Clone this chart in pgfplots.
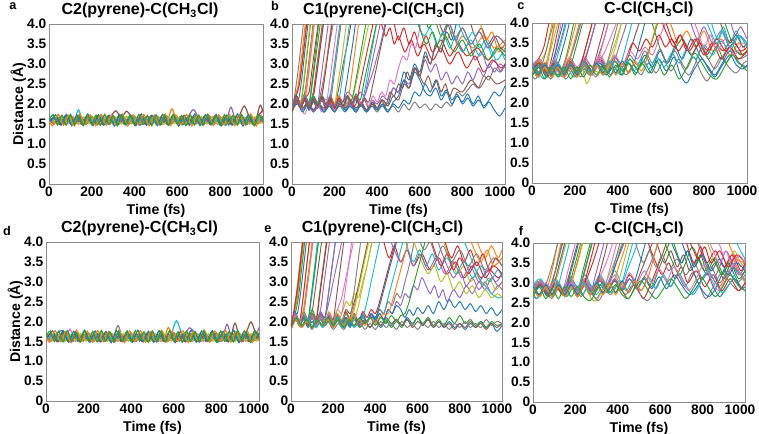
\documentclass[border=0pt]{standalone}
\usepackage{pgfplots}
\pgfplotsset{compat=1.18}
\usepackage{pgfplotstable}
\usepackage{fontspec}
\setmainfont{Liberation Sans}
\definecolor{t1}{HTML}{1F77B4}
\definecolor{t2}{HTML}{FF7F0E}
\definecolor{t3}{HTML}{2CA02C}
\definecolor{t4}{HTML}{D62728}
\definecolor{t5}{HTML}{9467BD}
\definecolor{t6}{HTML}{8C564B}
\definecolor{t7}{HTML}{E377C2}
\definecolor{t8}{HTML}{7F7F7F}
\definecolor{t9}{HTML}{BCBD22}
\definecolor{t10}{HTML}{17BECF}
\pgfplotscreateplotcyclelist{tab}{{t1},{t2},{t3},{t4},{t5},{t6},{t7},{t8},{t9},{t10}}
\pgfplotsset{panel/.style={
 scale only axis, xmin=0, xmax=1000, ymin=0, ymax=4,
 xtick={0,200,400,600,800},
 extra x ticks={1000},
 extra x tick style={xticklabel style={xshift=-3.75pt}},
 ytick={0,0.5,1,1.5,2,2.5,3,3.5,4},
 yticklabels={0,0.5,1.0,1.5,2.0,2.5,3.0,3.5,4.0},
 /pgf/number format/assume math mode=true,
 /pgf/number format/1000 sep={},
 tick label style={font=\fontsize{10.3}{12}\selectfont\bfseries},
 axis line style={draw=black!45},
 major tick length=0pt,
 xlabel={Time (fs)},
 xlabel style={font=\fontsize{10.6}{12}\selectfont\bfseries, yshift=1.5pt},
 title style={font=\fontsize{12}{14}\selectfont\bfseries, yshift=-5pt},
 cycle list name=tab,
 no marks,
 every axis plot/.append style={line width=0.7pt, smooth},
 yticklabel style={xshift=1.5pt},
 xticklabel style={yshift=1pt},
}}

\pgfplotstableread{
x x2 y1 y2 y3 y4 y5 y6 y7 y8 y9 y10
0 12.5 1.62 1.55 1.60 1.57 1.63 1.56 1.61 1.58 1.59 1.57
25 37.5 1.50 1.68 1.53 1.66 1.52 1.65 1.50 1.67 1.51 1.68
50 62.5 1.66 1.52 1.68 1.49 1.67 1.51 1.66 1.53 1.65 1.52
75 87.5 1.49 1.70 1.51 1.69 1.50 1.68 1.52 1.70 1.53 1.69
100 112.5 1.64 1.51 1.70 1.52 1.66 1.53 1.69 1.51 1.67 1.50
125 137.5 1.52 1.66 1.54 1.65 1.53 1.66 1.49 1.66 1.50 1.85
150 162.5 1.67 1.53 1.67 1.50 1.68 1.50 1.67 1.54 1.66 1.51
175 187.5 1.50 1.69 1.52 1.68 1.51 1.69 1.53 1.68 1.52 1.67
200 212.5 1.63 1.50 1.69 1.51 1.65 1.52 1.65 1.52 1.68 1.53
225 237.5 1.48 1.67 1.50 1.70 1.52 1.67 1.51 1.70 1.51 1.69
250 262.5 1.65 1.52 1.66 1.49 1.69 1.51 1.68 1.53 1.65 1.50
275 287.5 1.51 1.71 1.53 1.66 1.50 1.68 1.50 1.67 1.53 1.66
300 312.5 1.66 1.51 1.70 1.52 1.67 1.83 1.66 1.51 1.67 1.52
325 337.5 1.49 1.68 1.52 1.69 1.53 1.66 1.52 1.69 1.50 1.68
350 362.5 1.62 1.53 1.67 1.50 1.66 1.82 1.69 1.54 1.69 1.51
375 387.5 1.50 1.66 1.51 1.67 1.51 1.66 1.51 1.66 1.52 1.70
400 412.5 1.68 1.50 1.69 1.51 1.68 1.51 1.67 1.52 1.66 1.53
425 437.5 1.47 1.70 1.53 1.65 1.52 1.67 1.49 1.70 1.51 1.67
450 462.5 1.64 1.52 1.66 1.49 1.65 1.53 1.65 1.53 1.68 1.50
475 487.5 1.52 1.67 1.50 1.70 1.50 1.69 1.52 1.68 1.53 1.69
500 512.5 1.66 1.51 1.68 1.52 1.67 1.50 1.68 1.51 1.65 1.52
525 537.5 1.49 1.69 1.52 1.66 1.53 1.66 1.50 1.67 1.50 1.66
550 562.5 1.63 1.53 1.70 1.50 1.69 1.52 1.66 1.54 1.67 1.51
575 587.5 1.51 1.88 1.54 1.68 1.51 1.68 1.53 1.69 1.52 1.68
600 612.5 1.67 1.50 1.67 1.51 1.66 1.51 1.69 1.52 1.69 1.53
625 637.5 1.48 1.68 1.51 1.69 1.52 1.67 1.51 1.66 1.51 1.67
650 662.5 1.65 1.52 1.69 1.49 1.68 1.53 1.67 1.53 1.66 1.50
675 687.5 1.50 1.70 1.52 1.66 1.86 1.69 1.50 1.70 1.53 1.69
700 712.5 1.62 1.51 1.66 1.52 1.65 1.50 1.65 1.51 1.68 1.52
725 737.5 1.49 1.67 1.53 1.68 1.50 1.66 1.52 1.68 1.50 1.66
750 762.5 1.66 1.53 1.70 1.50 1.67 1.52 1.68 1.54 1.65 1.51
775 787.5 1.51 1.69 1.51 1.70 1.52 1.68 1.49 1.67 1.52 1.68
800 812.5 1.64 1.50 1.67 1.51 1.69 1.51 1.66 1.52 1.67 1.53
825 837.5 1.47 1.68 1.52 1.67 1.51 1.67 1.51 1.69 1.51 1.70
850 862.5 1.63 1.52 1.69 1.49 1.92 1.50 1.69 1.53 1.69 1.50
875 887.5 1.50 1.70 1.50 1.69 1.53 1.68 1.52 1.66 1.53 1.67
900 912.5 1.67 1.51 1.68 1.52 1.68 1.95 1.67 1.51 1.66 1.52
925 937.5 1.49 1.67 1.53 1.66 1.50 1.66 1.50 1.70 1.50 1.69
950 962.5 1.65 1.53 1.66 1.50 1.66 1.52 1.65 1.54 1.68 1.51
975 987.5 1.51 1.69 1.52 1.68 1.52 1.97 1.53 1.68 1.52 1.66
1000 1012.5 1.62 1.52 1.70 1.86 1.67 1.53 1.68 1.52 1.65 1.53
}\tabA

\pgfplotstableread{
x x2 y1 y2 y3 y4 y5 y6 y7 y8 y9 y10
0 12.5 1.60 1.55 1.62 1.58 1.63 1.57 1.61 1.59 1.60 1.56
25 37.5 1.52 1.68 1.52 1.70 1.51 1.67 1.51 1.68 1.52 1.69
50 62.5 1.70 1.51 1.69 1.50 1.68 1.52 1.67 1.53 1.68 1.51
75 87.5 1.77 1.69 1.50 1.70 1.53 1.69 1.53 1.70 1.50 1.67
100 112.5 1.52 1.53 1.67 1.52 1.70 1.50 1.81 1.51 1.67 1.53
125 137.5 1.50 1.69 1.53 1.67 1.50 1.66 1.50 1.67 1.53 1.70
150 162.5 1.68 1.50 1.70 1.51 1.67 1.53 1.68 1.52 1.69 1.50
175 187.5 1.53 1.66 1.51 1.69 1.52 1.68 1.52 1.69 1.51 1.68
200 212.5 1.71 1.52 1.68 1.53 1.69 1.51 1.70 1.50 1.68 1.52
225 237.5 1.51 1.68 1.52 1.68 1.51 1.70 1.51 1.68 1.52 1.69
250 262.5 1.69 1.51 1.69 1.50 1.68 1.52 1.67 1.53 1.70 1.51
275 287.5 1.52 1.67 1.50 1.70 1.53 1.67 1.53 1.70 1.50 1.67
300 312.5 1.72 1.53 1.71 1.52 1.70 1.50 1.69 1.51 1.67 1.53
325 337.5 1.50 1.69 1.53 1.67 1.50 1.69 1.50 1.90 1.53 1.70
350 362.5 1.68 1.50 1.67 1.51 1.67 1.53 1.68 1.53 1.69 1.50
375 387.5 1.53 1.66 1.51 1.69 1.52 1.66 1.52 1.69 1.51 1.68
400 412.5 1.70 1.52 1.69 1.53 1.69 1.51 1.70 1.50 1.68 1.52
425 437.5 1.51 1.68 1.52 1.68 1.51 1.68 1.51 1.68 1.52 1.69
450 462.5 1.69 1.51 1.70 1.50 1.68 1.52 1.67 1.53 1.70 1.51
475 487.5 1.52 1.67 1.50 1.70 1.53 1.70 1.53 1.70 1.50 1.67
500 512.5 1.71 1.53 1.68 1.52 1.70 1.50 1.69 1.51 1.67 1.53
525 537.5 1.50 1.69 1.53 1.67 1.50 1.67 1.50 1.67 1.53 1.70
550 562.5 1.68 1.50 1.69 1.51 1.67 1.53 1.68 1.52 1.69 1.50
575 587.5 1.53 1.85 1.51 1.69 1.52 1.69 1.52 1.69 1.51 1.68
600 612.5 1.72 1.52 1.67 1.53 1.69 1.51 1.70 1.50 1.68 2.02
625 637.5 1.51 1.68 1.52 1.68 1.51 1.66 1.51 1.68 1.52 1.69
650 662.5 1.69 1.51 1.70 1.50 1.68 1.52 1.67 1.53 1.70 1.51
675 687.5 1.52 1.67 1.50 1.70 1.84 1.68 1.53 1.70 1.50 1.67
700 712.5 1.70 1.53 1.68 1.52 1.70 1.50 1.69 1.51 1.67 1.53
725 737.5 1.50 1.69 1.53 1.67 1.50 1.70 1.50 1.67 1.53 1.70
750 762.5 1.68 1.50 1.69 1.51 1.67 1.53 1.68 1.52 1.69 1.50
775 787.5 1.53 1.66 1.51 1.69 1.52 1.67 1.52 1.69 1.51 1.68
800 812.5 1.71 1.52 1.67 1.53 1.69 1.51 1.70 1.50 1.68 1.52
825 837.5 1.51 1.68 1.52 1.68 1.51 1.69 1.51 1.68 1.52 1.69
850 862.5 1.69 1.51 1.70 1.50 1.93 1.52 1.67 1.53 1.70 1.51
875 887.5 1.52 1.69 1.50 1.70 1.53 1.96 1.53 1.70 1.50 1.67
900 912.5 1.70 1.53 1.68 1.52 1.70 1.50 1.69 1.51 1.67 1.53
925 937.5 1.50 1.67 1.53 1.67 1.50 1.68 1.50 1.67 1.53 1.70
950 962.5 1.68 1.50 1.69 1.51 1.67 1.99 1.68 1.52 1.69 1.50
975 987.5 1.53 1.66 1.51 1.69 1.52 1.66 1.52 1.69 1.51 1.68
1000 1012.5 1.71 1.52 1.67 1.55 1.85 1.52 1.70 1.50 1.68 1.52
}\tabD

\begin{document}
\begin{tikzpicture}
\useasboundingbox (0,0) rectangle (569.25pt,-325.5pt);

% ---------------- panel a
\begin{axis}[panel, at={(36.75pt,-138pt)}, anchor=south west, width=160.5pt, height=120pt,
 title={C2(pyrene)-C(CH\textsubscript{3}Cl)}, title style={xshift=-12pt},
 every axis plot/.append style={line width=0.9pt},
 ylabel={Distance (Å)}, ylabel style={font=\fontsize{10.6}{12}\selectfont\bfseries, yshift=-6pt}]
\addplot table[x=x,y=y1]{\tabA};
\addplot table[x=x,y=y2]{\tabA};
\addplot table[x=x,y=y3]{\tabA};
\addplot table[x=x,y=y4]{\tabA};
\addplot table[x=x,y=y5]{\tabA};
\addplot table[x=x2,y=y6]{\tabA};
\addplot table[x=x2,y=y7]{\tabA};
\addplot table[x=x2,y=y8]{\tabA};
\addplot table[x=x2,y=y9]{\tabA};
\addplot table[x=x2,y=y10]{\tabA};
\addplot coordinates {(6,1.55)(31,1.73)(56,1.47)(81,1.74)(106,1.46)(131,1.72)(156,1.48)(181,1.75)(206,1.46)(231,1.73)(256,1.47)(281,1.72)(306,1.45)(331,1.74)(356,1.48)(381,1.73)(406,1.46)(431,1.75)(456,1.47)(481,1.72)(506,1.46)(531,1.74)(556,1.48)(581,1.73)(606,1.45)(631,1.72)(656,1.47)(681,1.75)(706,1.46)(731,1.73)(756,1.48)(781,1.74)(806,1.46)(831,1.72)(856,1.47)(881,1.75)(906,1.45)(931,1.73)(956,1.48)(981,1.74)(1006,1.50)};
\addplot coordinates {(0,1.58)(18,1.46)(43,1.74)(68,1.47)(93,1.72)(118,1.45)(143,1.75)(168,1.48)(193,1.73)(218,1.46)(243,1.74)(268,1.47)(293,1.72)(318,1.46)(343,1.75)(368,1.45)(393,1.73)(418,1.48)(443,1.74)(468,1.46)(493,1.72)(518,1.47)(543,1.75)(568,1.46)(593,1.73)(618,1.48)(643,1.74)(668,1.45)(693,1.72)(718,1.47)(743,1.75)(768,1.46)(793,1.73)(818,1.48)(843,1.74)(868,1.46)(893,1.72)(918,1.47)(943,1.75)(968,1.45)(993,1.73)};
\addplot coordinates {(0,1.6)(20,1.73)(40,1.48)(60,1.72)(80,1.47)(100,1.74)(120,1.49)(140,1.71)(160,1.46)(180,1.73)(200,1.48)(220,1.72)(240,1.47)(260,1.74)(280,1.49)(300,1.71)(320,1.46)(340,1.73)(360,1.48)(380,1.72)(400,1.47)(420,1.74)(440,1.49)(460,1.71)(480,1.46)(500,1.73)(520,1.48)(540,1.72)(560,1.47)(580,1.74)(600,1.49)(620,1.71)(640,1.46)(660,1.73)(680,1.48)(700,1.72)(720,1.47)(740,1.74)(760,1.49)(780,1.71)(800,1.46)(820,1.73)(840,1.48)(860,1.72)(880,1.47)(900,1.74)(920,1.49)(940,1.71)(960,1.46)(980,1.73)(1000,1.55)};
\end{axis}

% ---------------- panel b
\begin{axis}[panel, at={(219pt,-138pt)}, anchor=south west, width=159.75pt, height=120pt,
 title={C1(pyrene)-Cl(CH\textsubscript{3}Cl)}, title style={xshift=-11pt}]
\addplot coordinates {(0,1.85)(25,2.05)(50,1.85)(75,2.0)(100,1.8)(125,1.95)(150,1.8)(175,2.0)(200,1.85)(225,1.95)(250,1.8)(275,2.0)(300,1.85)(325,1.95)(350,1.8)(375,2.0)(400,1.85)(425,1.95)(450,1.8)(475,2.0)(500,1.9)(525,2.1)(550,2.0)(575,2.3)(600,2.2)(625,2.5)(650,2.3)(675,2.6)(700,2.2)(725,2.35)(750,2.1)(775,2.25)(800,2.0)(825,2.15)(850,1.95)(875,2.1)(900,1.95)(925,2.1)(950,2.3)(975,2.2)(1000,2.45)};
\addplot coordinates {(0,1.85)(15,2.2)(30,2.4)(45,3.0)(60,3.7)(75,4.4)(90,5.0)(105,5.5)(640,5.5)(660,5.0)(680,4.4)(700,3.9)(725,3.6)(750,3.8)(775,3.5)(800,3.7)(850,3.4)(900,3.7)(950,3.4)(1000,3.6)};
\addplot coordinates {(0,1.8)(20,2.1)(40,2.0)(55,2.5)(70,3.2)(85,3.9)(100,4.5)(115,5.1)(130,5.6)(580,5.6)(600,5.0)(620,4.4)(640,3.9)(670,4.1)(700,3.7)(730,4.0)(760,3.6)(800,3.9)(840,3.5)(880,3.8)(920,3.4)(960,3.7)(1000,3.5)};
\addplot coordinates {(0,1.85)(20,2.2)(40,2.0)(60,2.15)(80,2.3)(95,2.9)(110,3.5)(125,4.1)(140,4.7)(155,5.3)(420,5.3)(440,4.9)(460,4.4)(480,4.0)(500,3.6)(525,3.9)(550,3.5)(575,3.8)(600,3.4)(630,3.7)(660,3.3)(700,3.6)(740,3.2)(780,3.5)(820,3.2)(870,3.4)(920,3.1)(970,3.4)(1000,3.3)};
\addplot coordinates {(0,1.8)(20,2.1)(40,1.95)(60,2.15)(80,1.9)(100,2.1)(120,2.0)(140,2.4)(160,3.0)(180,3.6)(200,4.2)(220,4.8)(240,5.3)(680,5.3)(700,4.9)(720,4.4)(740,4.0)(770,3.6)(800,3.3)(830,3.5)(860,3.1)(890,3.3)(920,2.9)(950,3.1)(980,2.8)(1000,3.0)};
\addplot coordinates {(0,1.85)(20,2.15)(40,2.0)(60,2.2)(80,1.9)(100,2.1)(120,1.95)(140,2.15)(160,1.9)(180,2.1)(200,1.95)(220,2.4)(240,3.0)(260,3.5)(280,4.1)(300,4.7)(320,5.3)(780,5.3)(800,4.9)(820,4.4)(840,4.0)(860,3.7)(890,3.9)(920,3.5)(950,3.7)(980,3.4)(1000,3.5)};
\addplot coordinates {(0,1.85)(20,2.2)(40,2.0)(60,2.1)(75,2.6)(90,3.3)(105,4.0)(120,4.6)(135,5.2)};
\addplot coordinates {(0,1.8)(25,2.05)(50,1.9)(75,2.0)(100,1.85)(125,2.0)(150,1.85)(175,1.95)(200,1.8)(225,2.0)(250,1.85)(275,1.95)(300,1.8)(325,2.0)(350,1.85)(375,1.95)(400,1.8)(425,2.0)(450,1.85)(475,1.95)(500,1.8)(525,2.0)(550,1.85)(575,2.05)(600,1.9)(625,2.0)(650,1.85)(675,2.0)(700,1.9)(725,2.05)(750,1.95)(775,2.3)(800,2.2)(825,2.35)(850,2.5)(875,2.4)(900,2.7)(925,2.6)(950,2.9)(975,2.8)(1000,3.0)};
\addplot coordinates {(0,1.85)(20,2.1)(40,1.95)(60,2.2)(80,2.0)(100,2.2)(115,2.7)(130,3.3)(145,3.9)(160,4.5)(175,5.1)};
\addplot coordinates {(0,1.8)(20,2.15)(40,1.9)(60,2.1)(80,1.85)(100,2.05)(120,1.9)(140,2.1)(160,1.85)(180,2.05)(200,1.9)(220,2.1)(240,1.85)(260,2.05)(280,1.9)(300,2.1)(320,1.95)(340,2.3)(360,2.9)(380,3.5)(400,4.1)(420,4.7)(440,5.3)(720,5.3)(740,4.9)(760,4.3)(790,3.9)(820,3.6)(850,3.8)(880,3.4)(910,3.6)(940,3.2)(970,3.4)(1000,3.1)};
\addplot coordinates {(0,1.85)(25,2.1)(50,1.9)(75,2.05)(100,1.85)(125,2.0)(150,1.8)(175,2.0)(200,1.85)(225,2.05)(250,1.9)(275,2.0)(300,1.8)(325,2.0)(350,1.85)(375,2.05)(400,1.9)(425,2.1)(450,2.0)(475,2.4)(500,2.3)(525,2.8)(550,2.6)(575,3.0)(600,2.8)(625,3.3)(650,3.0)(675,3.5)(700,3.3)(725,3.8)(750,3.6)(775,4.1)(800,4.7)(825,5.2)};
\addplot coordinates {(0,1.8)(20,2.15)(40,1.95)(60,2.2)(80,1.95)(100,2.2)(120,2.0)(140,2.25)(155,2.8)(170,3.4)(185,4.0)(200,4.6)(215,5.2)(840,5.2)(860,4.7)(880,4.1)(910,3.6)(940,3.8)(970,3.3)(1000,3.5)};
\addplot coordinates {(0,1.85)(20,2.2)(40,1.95)(60,2.15)(80,1.9)(100,2.1)(120,1.95)(140,2.15)(160,1.9)(180,2.1)(200,1.95)(220,2.1)(240,1.9)(260,2.2)(280,2.0)(300,2.25)(320,2.1)(340,2.6)(360,3.1)(380,3.6)(400,4.1)(420,4.7)(440,5.2)};
\addplot coordinates {(0,1.8)(20,2.1)(40,1.9)(60,2.15)(80,1.95)(100,2.3)(115,2.9)(130,3.5)(145,4.1)(160,4.7)(175,5.3)(360,5.3)(380,4.9)(400,4.4)(420,4.0)(440,3.7)(460,3.9)(480,3.5)(500,3.7)(530,3.3)(560,3.6)(590,3.2)(620,3.5)(660,3.1)(700,3.4)(740,3.0)(780,3.3)(820,2.9)(860,3.2)(900,2.8)(940,3.1)(980,2.9)(1000,3.0)};
\addplot coordinates {(0,1.85)(25,2.05)(50,1.85)(75,2.0)(100,1.8)(125,1.95)(150,1.85)(175,2.05)(200,1.9)(225,2.0)(250,1.85)(275,2.05)(300,1.9)(325,2.0)(350,1.85)(375,2.1)(400,2.0)(425,2.2)(450,2.1)(475,2.4)(500,2.3)(525,2.6)(550,2.5)(575,2.9)(600,2.7)(625,3.1)(650,2.8)(675,3.0)(700,2.6)(725,2.8)(750,2.5)(775,2.7)(800,2.5)(825,2.8)(850,2.6)(875,2.9)(900,2.7)(925,3.0)(950,2.8)(975,3.0)(1000,2.9)};
\addplot coordinates {(0,1.8)(20,2.15)(40,2.0)(60,2.2)(80,1.95)(100,2.15)(120,1.9)(140,2.1)(160,1.95)(180,2.15)(200,1.9)(220,2.1)(240,1.95)(260,2.2)(280,2.0)(300,2.15)(320,1.95)(340,2.1)(360,1.9)(380,2.05)(400,1.9)(420,2.1)(440,1.95)(460,2.3)(480,2.2)(500,2.5)(520,2.4)(540,2.8)(560,2.6)(580,2.9)(600,2.7)(620,2.5)(640,2.7)(660,2.4)(680,2.6)(700,2.3)(720,2.5)(740,2.2)(760,2.4)(800,2.3)(840,2.6)(880,2.4)(920,2.7)(960,2.5)(1000,2.6)};
\addplot coordinates {(0,1.8)(20,2.1)(40,1.9)(60,1.75)(80,2.0)(100,1.85)(120,2.0)(140,1.8)(160,2.0)(180,2.2)(195,2.8)(210,3.4)(225,4.0)(240,4.6)(255,5.2)};
\addplot coordinates {(0,1.85)(20,2.2)(40,2.0)(60,2.3)(75,2.9)(90,3.6)(105,4.3)(120,5.0)};
\addplot coordinates {(0,1.8)(20,2.1)(40,1.95)(60,2.15)(80,1.95)(100,2.1)(120,1.9)(140,2.1)(160,1.9)(180,2.15)(200,1.95)(220,2.1)(240,1.9)(260,2.2)(280,2.1)(300,2.5)(320,3.0)(340,3.5)(360,4.0)(380,4.6)(400,5.2)};
\addplot coordinates {(0,1.8)(20,2.15)(40,1.95)(60,2.2)(80,2.0)(100,2.25)(115,2.8)(130,3.4)(145,4.0)(160,4.6)(175,5.2)(520,5.2)(540,4.8)(560,4.3)(590,4.0)(620,3.7)(650,3.9)(680,3.5)(710,3.8)(740,3.4)(770,3.7)(800,3.3)(840,3.6)(880,3.2)(920,3.5)(960,3.1)(1000,3.4)};
\addplot coordinates {(0,1.85)(25,2.0)(50,1.8)(75,2.0)(100,1.85)(125,2.0)(150,1.8)(175,1.95)(200,1.8)(225,2.0)(250,1.85)(275,1.95)(300,1.8)(325,2.0)(350,1.8)(375,1.95)(400,1.85)(425,2.0)(450,1.8)(475,2.05)(500,2.2)(525,2.6)(550,2.4)(575,2.8)(600,2.6)(625,2.3)(650,2.2)(675,2.4)(700,2.1)(725,2.3)(750,2.0)(775,2.2)(800,2.05)(825,2.25)(850,2.0)(875,2.2)(900,1.9)(925,2.05)(950,1.85)(975,1.7)(1000,1.9)};
\addplot coordinates {(0,1.85)(15,2.2)(30,2.5)(45,3.2)(60,3.9)(75,4.5)(90,5.1)};
\addplot coordinates {(0,1.8)(20,2.2)(40,2.0)(60,2.25)(80,2.05)(95,2.6)(110,3.3)(125,4.0)(140,4.6)(155,5.2)};
\addplot coordinates {(0,1.85)(20,2.2)(35,2.5)(50,3.1)(65,3.8)(80,4.5)(95,5.1)};
\addplot coordinates {(0,1.85)(20,2.1)(40,1.9)(60,2.1)(80,1.9)(100,2.15)(120,1.95)(140,2.15)(160,1.95)(180,2.2)(200,2.0)(220,2.2)(240,2.05)(260,2.3)(280,2.2)(300,2.1)(320,2.3)(340,2.2)(360,2.5)(380,2.8)(400,3.2)(420,3.6)(440,4.1)(460,4.6)(480,5.1)};
\addplot coordinates {(0,1.8)(25,2.1)(50,1.9)(75,2.05)(100,1.85)(125,2.0)(150,1.9)(175,2.05)(200,1.85)(225,2.0)(250,1.9)(275,2.1)(300,1.9)(325,2.05)(350,1.85)(375,2.0)(400,1.9)(425,2.1)(450,1.95)(475,2.2)(500,2.1)(525,2.5)(550,2.4)(575,2.9)(600,2.7)(625,3.2)(650,3.0)(675,3.5)(700,3.3)(725,3.9)(750,4.4)(775,5.0)};
\addplot coordinates {(0,1.85)(20,2.1)(40,1.9)(60,2.1)(80,1.85)(100,2.05)(120,1.9)(140,2.1)(160,1.9)(180,2.05)(200,1.85)(220,2.1)(240,1.95)(260,2.15)(280,1.95)(300,2.2)(320,2.0)(340,2.15)(360,1.95)(380,2.2)(400,2.05)(420,2.3)(440,2.2)(460,2.6)(480,2.5)(500,2.9)(520,3.2)(540,3.1)(560,3.5)(580,3.4)(600,3.9)(620,4.4)(640,5.0)};
\addplot coordinates {(0,1.85)(15,2.3)(30,2.9)(45,3.6)(60,4.3)(75,5.0)};
\addplot coordinates {(0,1.8)(20,2.15)(40,2.05)(55,2.6)(70,3.3)(85,4.0)(100,4.7)};
\addplot coordinates {(0,1.85)(20,2.2)(40,2.0)(60,2.2)(80,2.05)(100,2.2)(120,2.05)(140,2.2)(160,2.1)(180,2.25)(195,2.8)(210,3.4)(225,4.0)(240,4.6)};
\addplot coordinates {(0,1.85)(15,2.2)(30,2.1)(45,2.6)(60,3.3)(75,4.0)(90,4.7)};
\addplot coordinates {(0,1.8)(20,2.15)(40,1.95)(60,2.2)(75,2.7)(90,3.4)(105,4.1)(120,4.8)};
\addplot coordinates {(0,1.85)(20,2.2)(40,2.0)(60,2.15)(80,1.95)(95,2.5)(110,3.1)(125,3.7)(140,4.3)(155,4.9)};
\addplot coordinates {(0,1.8)(20,2.1)(40,1.9)(60,2.2)(80,2.0)(100,2.2)(115,2.7)(130,3.3)(145,3.9)(160,4.5)(175,5.1)};
\addplot coordinates {(0,1.85)(20,2.2)(40,1.95)(60,2.15)(80,1.9)(100,2.15)(120,2.0)(135,2.6)(150,3.2)(165,3.8)(180,4.4)(195,5.0)};
\addplot coordinates {(0,1.8)(20,2.15)(40,1.9)(60,2.1)(80,1.9)(100,2.1)(120,1.95)(140,2.2)(155,2.7)(170,3.3)(185,3.9)(200,4.5)(215,5.1)};
\addplot coordinates {(0,1.85)(20,2.1)(40,1.95)(60,2.2)(80,1.95)(100,2.15)(120,1.9)(140,2.1)(160,2.0)(175,2.5)(190,3.1)(205,3.7)(220,4.3)(235,4.9)};
\addplot coordinates {(0,1.8)(20,2.2)(40,2.0)(60,2.1)(80,1.85)(100,2.1)(120,1.95)(140,2.2)(160,1.95)(180,2.05)(195,2.6)(210,3.2)(225,3.8)(240,4.4)(255,5.0)};
\addplot coordinates {(0,1.85)(20,2.15)(40,1.9)(60,2.15)(80,1.9)(100,2.1)(120,1.9)(140,2.15)(160,1.95)(180,2.2)(200,2.0)(215,2.5)(230,3.0)(245,3.6)(260,4.2)(275,4.8)};
\addplot coordinates {(0,1.8)(20,2.1)(40,1.95)(60,2.2)(80,1.95)(100,2.2)(120,2.0)(140,2.15)(160,1.9)(180,2.15)(200,1.95)(220,2.1)(235,2.6)(250,3.2)(265,3.8)(280,4.4)(295,5.0)};
\addplot coordinates {(0,1.85)(20,2.2)(40,1.95)(60,2.1)(80,1.85)(100,2.05)(120,1.9)(140,2.1)(160,1.9)(180,2.1)(200,1.95)(220,2.15)(240,2.05)(255,2.5)(270,3.0)(285,3.5)(300,4.1)(315,4.7)};
\addplot coordinates {(0,1.8)(20,2.15)(40,2.0)(60,2.2)(80,1.95)(100,2.15)(120,1.9)(140,2.15)(160,1.95)(180,2.2)(200,2.0)(220,2.2)(240,1.95)(260,2.0)(275,2.5)(290,3.1)(305,3.7)(320,4.3)(335,4.9)};
\addplot coordinates {(0,1.85)(20,2.1)(40,1.9)(60,2.15)(80,1.95)(100,2.2)(120,2.0)(140,2.2)(160,1.95)(180,2.15)(200,1.9)(220,2.1)(240,1.9)(260,2.15)(280,2.1)(300,2.6)(320,3.2)(340,3.8)(360,4.4)(380,5.0)(400,5.5)(540,5.5)(560,5.0)(580,4.4)(600,3.9)(630,3.5)(660,3.8)(690,3.4)(720,3.7)(760,3.3)(800,3.6)(840,3.2)(880,3.5)(920,3.1)(960,3.4)(1000,3.2)};
\addplot coordinates {(0,1.8)(20,2.2)(40,1.95)(60,2.15)(80,1.9)(100,2.1)(120,1.95)(140,2.15)(160,1.9)(180,2.1)(200,1.9)(220,2.15)(240,1.95)(260,2.2)(280,1.95)(300,2.0)(320,2.5)(340,3.0)(360,3.5)(380,4.0)(400,4.6)(420,5.2)};
\addplot coordinates {(0,1.85)(20,2.15)(40,1.95)(60,2.2)(80,2.0)(100,2.15)(120,1.9)(140,2.1)(160,1.95)(180,2.2)(200,1.95)(220,2.1)(240,1.9)(260,2.15)(280,1.95)(300,2.2)(330,2.0)(350,2.4)(370,2.9)(390,3.4)(410,3.9)(430,4.4)(450,5.0)(640,5.0)(660,4.6)(680,4.2)(710,3.8)(740,4.0)(770,3.6)(800,3.9)(840,3.5)(880,3.8)(920,3.4)(960,3.7)(1000,3.5)};
\addplot coordinates {(0,1.8)(20,2.1)(40,1.9)(60,2.1)(80,1.9)(100,2.15)(120,1.95)(140,2.2)(160,2.0)(180,2.15)(200,1.9)(220,2.1)(240,1.95)(260,2.2)(280,2.0)(300,2.2)(320,1.95)(340,2.15)(360,2.05)(380,2.5)(400,3.0)(420,3.5)(440,4.0)(460,4.6)(480,5.2)};
\end{axis}

% ---------------- panel c
\begin{axis}[panel, at={(399pt,-137.25pt)}, anchor=south west, width=161.25pt, height=120pt,
 title={C-Cl(CH\textsubscript{3}Cl)}, title style={xshift=7pt}]
\addplot coordinates {(0,2.75)(30,2.95)(65,2.7)(100,2.95)(135,2.7)(170,2.9)(205,2.65)(240,2.85)(275,2.7)(310,2.95)(345,2.7)(380,2.9)(415,2.7)(450,3.0)(485,2.75)(520,3.05)(555,2.75)(590,3.1)(625,2.8)(660,3.15)(690,2.7)(720,2.5)(750,2.8)(790,3.1)(820,2.85)(850,2.65)(880,2.9)(920,3.2)(950,2.95)(980,2.85)(1000,2.95)};
\addplot coordinates {(0,2.85)(30,3.0)(60,2.8)(80,3.2)(95,3.7)(110,4.2)(125,4.8)(140,5.3)(580,5.3)(600,4.9)(620,4.4)(650,3.9)(680,3.5)(720,3.8)(760,3.4)(800,3.8)(840,3.3)(880,3.6)(920,3.2)(960,3.5)(1000,3.3)};
\addplot coordinates {(0,2.8)(30,3.0)(60,2.75)(90,2.95)(120,2.7)(150,3.0)(170,3.4)(190,3.9)(210,4.4)(230,5.0)(500,5.0)(520,4.7)(540,4.3)(570,3.8)(600,3.3)(630,3.0)(660,3.3)(700,3.6)(740,3.2)(780,3.5)(820,3.1)(860,3.4)(900,3.0)(940,3.3)(980,3.2)(1000,3.3)};
\addplot coordinates {(0,2.8)(35,2.95)(70,2.7)(105,3.0)(140,2.75)(175,3.05)(210,2.8)(245,3.1)(270,3.5)(295,4.0)(320,4.5)(345,5.1)(560,5.1)(580,4.8)(600,4.4)(630,3.9)(660,3.5)(690,3.7)(730,3.3)(770,3.6)(810,3.2)(850,3.5)(890,3.3)(930,3.6)(970,3.3)(1000,3.4)};
\addplot coordinates {(0,2.9)(35,3.05)(70,2.8)(105,3.1)(130,3.5)(150,3.9)(170,4.4)(190,5.0)(680,5.0)(700,4.7)(720,4.3)(745,3.9)(770,3.6)(800,3.9)(840,3.5)(880,3.8)(920,3.4)(960,3.7)(1000,3.5)};
\addplot coordinates {(0,2.7)(35,2.9)(70,2.65)(105,2.9)(140,2.7)(175,2.95)(210,2.7)(245,2.95)(280,2.7)(315,3.0)(350,2.75)(385,3.05)(420,2.8)(450,3.2)(480,3.7)(510,4.2)(540,4.8)};
\addplot coordinates {(0,2.85)(35,3.0)(70,2.75)(100,3.1)(120,3.6)(140,4.1)(160,4.7)};
\addplot coordinates {(0,2.7)(17,2.6)(52,2.85)(87,2.6)(122,2.85)(157,2.6)(192,2.85)(227,2.65)(262,2.9)(297,2.65)(332,2.9)(367,2.7)(402,2.95)(437,2.7)(472,2.95)(507,2.7)(542,3.0)(577,2.75)(612,3.05)(647,2.8)(682,3.1)(717,2.85)(752,3.15)(787,2.75)(815,2.55)(845,2.85)(880,3.15)(915,2.9)(950,2.75)(985,3.0)(1000,3.05)};
\addplot coordinates {(0,2.8)(35,3.0)(70,2.75)(105,2.95)(140,2.7)(175,2.95)(210,2.7)(235,2.85)(255,2.48)(285,2.8)(320,2.75)(350,3.0)(380,3.4)(410,3.9)(440,4.4)(470,5.0)};
\addplot coordinates {(0,2.95)(35,3.1)(70,2.85)(105,3.05)(140,2.8)(175,3.1)(200,3.5)(225,4.0)(250,4.5)(275,5.1)(780,5.1)(800,4.8)(820,4.4)(840,3.9)(865,3.6)(890,3.9)(920,3.5)(950,3.8)(980,3.4)(1000,3.5)};
\addplot coordinates {(0,2.7)(35,2.9)(70,2.65)(105,2.95)(140,2.7)(175,2.95)(210,2.7)(245,2.95)(280,2.75)(315,3.0)(350,2.75)(385,3.05)(420,2.8)(455,3.1)(490,2.85)(525,3.2)(560,2.9)(595,3.3)(630,3.0)(665,3.4)(700,3.1)(740,3.6)(780,3.2)(820,2.9)(850,2.7)(880,2.95)(920,3.3)(960,3.0)(1000,2.9)};
\addplot coordinates {(0,2.85)(30,3.05)(60,2.9)(80,3.3)(100,3.8)(120,4.3)(140,4.9)};
\addplot coordinates {(0,2.75)(35,2.95)(70,2.7)(105,2.95)(140,2.7)(175,3.0)(210,2.75)(245,3.0)(280,2.75)(315,3.05)(350,2.8)(385,3.05)(420,2.8)(455,3.1)(490,2.85)(525,3.1)(555,3.5)(585,4.0)(615,4.5)(645,5.1)(840,5.1)(860,4.7)(880,4.3)(910,3.8)(940,3.4)(970,3.2)(1000,3.3)};
\addplot coordinates {(0,2.8)(35,3.0)(70,2.75)(105,3.0)(140,2.75)(175,3.05)(210,2.8)(245,3.05)(280,2.8)(315,3.1)(350,2.85)(385,3.15)(420,2.9)(450,3.3)(470,3.5)(500,3.3)(530,3.6)(560,3.4)(590,3.7)(620,3.4)(650,3.6)(680,3.3)(710,3.5)(740,3.2)(780,3.5)(820,3.3)(860,3.6)(900,3.3)(940,3.5)(980,3.2)(1000,3.3)};
\addplot coordinates {(0,2.85)(35,3.0)(70,2.8)(105,3.05)(140,2.8)(175,3.1)(200,3.5)(225,3.95)(250,4.4)(275,5.0)};
\addplot coordinates {(0,2.8)(35,2.95)(70,2.7)(105,2.95)(140,2.75)(175,3.0)(210,2.75)(245,3.0)(280,2.8)(310,3.2)(335,3.6)(360,4.1)(385,4.6)(410,5.2)(820,5.2)(840,4.8)(860,4.3)(890,3.8)(920,3.5)(950,3.7)(980,3.4)(1000,3.5)};
\addplot coordinates {(0,2.75)(35,2.95)(70,2.7)(105,2.9)(140,2.65)(175,2.95)(210,2.7)(245,2.95)(280,2.7)(310,3.0)(340,3.3)(370,3.7)(400,4.1)(430,4.6)(460,5.1)};
\addplot coordinates {(0,2.9)(35,3.05)(70,2.8)(105,3.05)(140,2.85)(175,3.1)(210,2.85)(245,3.1)(280,2.9)(315,3.15)(350,2.9)(385,3.15)(420,2.9)(455,3.2)(490,2.95)(525,3.3)(560,3.0)(595,3.35)(630,3.0)(665,3.3)(700,2.9)(730,2.7)(760,3.0)(790,3.4)(820,3.1)(850,2.85)(880,3.1)(920,3.4)(960,3.1)(1000,3.2)};
\addplot coordinates {(0,2.8)(35,3.0)(65,3.3)(85,3.8)(105,4.3)(125,4.9)};
\addplot coordinates {(0,2.7)(20,2.85)(55,2.6)(90,2.9)(125,2.65)(160,2.9)(195,2.65)(230,2.95)(265,2.7)(300,2.95)(335,2.7)(370,3.0)(405,2.75)(440,3.05)(475,2.8)(510,3.1)(545,2.85)(580,3.15)(615,2.9)(650,3.25)(685,3.0)(720,3.35)(760,3.1)(800,3.45)(840,3.2)(880,3.55)(920,3.3)(960,3.65)(1000,3.5)};
\addplot coordinates {(0,2.8)(35,3.0)(70,2.75)(100,3.1)(125,3.6)(150,4.1)(175,4.6)(200,5.2)};
\addplot coordinates {(0,2.9)(35,3.05)(70,2.8)(105,3.1)(140,2.85)(170,3.3)(195,3.8)(220,4.3)(245,4.9)};
\addplot coordinates {(0,2.75)(35,2.95)(70,2.7)(105,2.95)(140,2.75)(175,3.0)(210,2.8)(240,3.2)(265,3.7)(290,4.2)(315,4.7)};
\addplot coordinates {(0,2.9)(30,3.1)(55,3.4)(75,3.9)(95,4.4)(115,5.0)};
\addplot coordinates {(0,2.75)(35,2.95)(70,2.7)(105,2.95)(140,2.7)(175,3.0)(210,2.75)(245,3.0)(280,2.8)(315,3.05)(350,2.85)(385,3.1)(410,3.5)(435,3.9)(460,4.4)(485,5.0)(880,5.0)(900,4.6)(920,4.1)(945,3.7)(970,3.9)(1000,3.6)};
\addplot coordinates {(0,2.85)(35,3.0)(70,2.75)(95,3.2)(115,3.7)(135,4.2)(155,4.8)};
\addplot coordinates {(0,2.9)(35,3.1)(70,2.85)(105,3.1)(140,2.85)(175,3.15)(210,2.9)(245,3.15)(280,2.9)(315,3.2)(350,2.95)(385,3.2)(420,2.95)(455,3.3)(490,3.1)(525,3.4)(560,3.2)(590,3.6)(620,4.0)(650,4.5)(680,5.0)};
\addplot coordinates {(0,2.95)(30,2.75)(55,3.1)(75,3.5)(95,3.9)(115,4.4)(135,5.0)};
\addplot coordinates {(0,2.9)(30,2.7)(60,2.95)(85,3.3)(105,3.7)(125,4.1)(145,4.6)};
\addplot coordinates {(0,2.95)(30,2.7)(60,2.95)(90,2.7)(115,3.1)(135,3.5)(155,3.9)(175,4.4)(195,5.0)};
\addplot coordinates {(0,2.85)(30,2.65)(60,2.9)(90,2.7)(120,2.95)(145,3.4)(165,3.8)(185,4.3)(205,4.9)};
\addplot coordinates {(0,2.95)(30,2.75)(60,3.0)(90,2.7)(120,2.95)(150,2.7)(175,3.1)(195,3.5)(215,3.9)(235,4.4)(255,5.0)};
\addplot coordinates {(0,2.9)(30,2.7)(60,2.95)(90,2.65)(120,2.9)(150,2.7)(180,2.95)(200,3.3)(220,3.7)(240,4.1)(260,4.6)};
\addplot coordinates {(0,3.0)(30,2.75)(60,3.0)(90,2.75)(120,3.0)(150,2.75)(180,3.0)(210,2.7)(235,3.1)(255,3.5)(275,3.9)(295,4.4)(315,5.0)(560,5.0)(580,4.6)(600,4.1)(630,3.7)(660,3.4)(690,3.7)(720,3.3)(760,3.6)(800,3.2)(840,3.5)(880,3.1)(920,3.4)(960,3.1)(1000,3.3)};
\addplot coordinates {(0,2.85)(30,2.65)(60,2.9)(90,2.65)(120,2.9)(150,2.65)(180,2.95)(210,2.7)(240,2.95)(260,3.3)(280,3.7)(300,4.1)(320,4.6)};
\addplot coordinates {(0,2.95)(30,2.7)(60,2.95)(90,2.7)(120,2.95)(150,2.7)(180,3.0)(210,2.75)(240,3.0)(270,2.7)(295,3.1)(315,3.5)(335,3.9)(355,4.4)(375,5.0)};
\addplot coordinates {(0,2.9)(30,2.7)(60,2.95)(90,2.7)(120,2.95)(150,2.7)(180,2.95)(210,2.7)(240,3.0)(270,2.75)(300,2.95)(320,3.3)(340,3.7)(360,4.1)(380,4.6)(400,5.1)(700,5.1)(720,4.7)(740,4.3)(770,3.8)(800,3.4)(830,3.7)(860,3.3)(900,3.6)(940,3.2)(980,3.5)(1000,3.4)};
\addplot coordinates {(0,3.0)(30,2.75)(60,3.0)(90,2.75)(120,3.0)(150,2.75)(180,3.0)(210,2.75)(240,3.05)(270,2.75)(300,3.0)(330,2.7)(355,3.1)(375,3.5)(395,3.9)(415,4.4)(435,5.0)};
\addplot coordinates {(0,2.85)(30,2.65)(60,2.9)(90,2.65)(120,2.9)(150,2.65)(180,2.9)(210,2.65)(240,2.95)(270,2.7)(300,2.95)(330,2.7)(360,2.95)(385,3.35)(405,3.75)(425,4.2)(445,4.7)};
\addplot coordinates {(0,2.95)(30,2.7)(60,2.95)(90,2.7)(120,3.0)(150,2.7)(180,2.95)(210,2.7)(240,3.0)(270,2.75)(300,3.0)(330,2.75)(360,3.05)(390,2.75)(420,3.1)(440,3.5)(460,3.9)(480,4.4)(500,5.0)(760,5.0)(780,4.6)(800,4.2)(830,3.8)(860,3.5)(890,3.8)(920,3.4)(960,3.7)(1000,3.4)};
\addplot coordinates {(0,2.9)(30,2.7)(60,2.95)(90,2.7)(120,2.95)(150,2.7)(180,2.95)(210,2.7)(240,2.95)(270,2.7)(300,3.0)(330,2.75)(360,3.0)(390,2.75)(420,3.05)(450,2.75)(480,3.1)(500,3.5)(520,3.9)(540,4.4)(560,5.0)};
\addplot coordinates {(0,2.85)(30,2.65)(60,2.9)(90,2.65)(120,2.9)(150,2.65)(180,2.9)(210,2.65)(240,2.95)(270,2.7)(300,2.95)(330,2.7)(360,3.0)(390,2.7)(420,3.0)(450,2.75)(480,3.05)(510,2.8)(540,3.2)(560,3.6)(580,4.0)(600,4.5)(620,5.1)};
\addplot coordinates {(0,2.65)(30,2.9)(60,2.6)(90,2.9)(120,2.65)(150,2.9)(180,2.6)(210,2.9)(240,2.65)(270,2.95)(300,2.7)(330,2.95)(360,2.65)(390,2.95)(420,2.7)(450,3.0)(480,2.7)(510,3.0)(545,2.75)(580,3.05)(615,2.7)(650,2.95)(685,2.6)(720,2.9)(755,3.25)(790,3.0)(825,2.7)(860,2.6)(895,2.9)(930,3.2)(965,3.0)(1000,2.8)};
\end{axis}

% ---------------- panel d
\begin{axis}[panel, at={(34.5pt,-300.75pt)}, anchor=south west, width=159.75pt, height=119.25pt,
 title={C2(pyrene)-C(CH\textsubscript{3}Cl)}, title style={xshift=-9.75pt},
 every axis plot/.append style={line width=0.9pt},
 ylabel={Distance (Å)}, ylabel style={font=\fontsize{10.6}{12}\selectfont\bfseries, yshift=-6pt}]
\addplot table[x=x,y=y1]{\tabD};
\addplot table[x=x,y=y2]{\tabD};
\addplot table[x=x,y=y3]{\tabD};
\addplot table[x=x,y=y4]{\tabD};
\addplot table[x=x,y=y5]{\tabD};
\addplot table[x=x2,y=y6]{\tabD};
\addplot table[x=x2,y=y7]{\tabD};
\addplot table[x=x2,y=y8]{\tabD};
\addplot table[x=x2,y=y9]{\tabD};
\addplot table[x=x2,y=y10]{\tabD};
\addplot coordinates {(6,1.58)(31,1.76)(56,1.49)(81,1.77)(106,1.48)(131,1.75)(156,1.50)(181,1.78)(206,1.48)(231,1.76)(256,1.49)(281,1.75)(306,1.47)(331,1.77)(356,1.50)(381,1.76)(406,1.48)(431,1.78)(456,1.49)(481,1.75)(506,1.48)(531,1.77)(556,1.50)(581,1.76)(606,1.47)(631,1.75)(656,1.49)(681,1.78)(706,1.48)(731,1.76)(756,1.50)(781,1.77)(806,1.48)(831,1.75)(856,1.49)(881,1.78)(906,1.47)(931,1.76)(956,1.50)(981,1.77)(1006,1.52)};
\addplot coordinates {(0,1.60)(18,1.48)(43,1.77)(68,1.49)(93,1.75)(118,1.47)(143,1.78)(168,1.50)(193,1.76)(218,1.48)(243,1.77)(268,1.49)(293,1.75)(318,1.48)(343,1.78)(368,1.47)(393,1.76)(418,1.50)(443,1.77)(468,1.48)(493,1.75)(518,1.49)(543,1.78)(568,1.48)(593,1.76)(618,1.50)(643,1.77)(668,1.47)(693,1.75)(718,1.49)(743,1.78)(768,1.48)(793,1.76)(818,1.50)(843,1.77)(868,1.48)(893,1.75)(918,1.49)(943,1.78)(968,1.47)(993,1.76)};
\addplot coordinates {(0,1.62)(20,1.76)(40,1.50)(60,1.75)(80,1.49)(100,1.77)(120,1.51)(140,1.74)(160,1.48)(180,1.76)(200,1.50)(220,1.75)(240,1.49)(260,1.77)(280,1.51)(300,1.74)(320,1.48)(340,1.76)(360,1.50)(380,1.75)(400,1.49)(420,1.77)(440,1.51)(460,1.74)(480,1.48)(500,1.76)(520,1.50)(540,1.75)(560,1.49)(580,1.77)(600,1.51)(620,1.74)(640,1.48)(660,1.76)(680,1.50)(700,1.75)(720,1.49)(740,1.77)(760,1.51)(780,1.74)(800,1.48)(820,1.76)(840,1.50)(860,1.75)(880,1.49)(900,1.77)(920,1.51)(940,1.74)(960,1.48)(980,1.76)(1000,1.58)};
\end{axis}

% ---------------- panel e
\begin{axis}[panel, at={(218.25pt,-300.75pt)}, anchor=south west, width=158.25pt, height=119.25pt,
 title={C1(pyrene)-Cl(CH\textsubscript{3}Cl)}, title style={xshift=-10.5pt}]
\addplot coordinates {(0,1.85)(20,2.1)(40,1.9)(60,2.05)(80,1.85)(100,2.0)(120,1.85)(140,2.05)(160,1.9)(180,2.0)(200,1.85)(220,2.05)(240,1.9)(260,2.0)(280,1.85)(300,2.05)(325,1.85)(350,2.0)(375,1.85)(400,2.0)(425,1.85)(450,2.0)(475,1.9)(500,2.05)(525,1.9)(550,2.1)(575,1.95)(600,2.1)(625,1.9)(650,2.05)(675,1.85)(700,2.0)(725,1.85)(750,2.0)(775,1.85)(800,1.95)(825,1.8)(850,1.95)(875,1.85)(900,2.0)(925,1.85)(950,1.95)(975,1.75)(1000,1.9)};
\addplot coordinates {(0,1.85)(15,2.2)(30,2.6)(45,3.3)(60,4.0)(75,4.6)(90,5.2)};
\addplot coordinates {(0,1.8)(20,2.15)(40,1.95)(60,2.2)(80,1.9)(100,2.1)(120,1.85)(140,2.05)(160,1.9)(180,2.1)(200,1.9)(220,2.05)(240,1.85)(260,2.05)(280,1.9)(300,2.1)(325,1.85)(350,2.0)(375,1.85)(400,2.05)(425,1.9)(450,2.05)(475,1.85)(500,2.0)(525,1.85)(550,2.05)(575,1.9)(600,2.1)(625,1.95)(650,2.1)(675,1.9)(700,2.05)(725,1.9)(750,2.1)(775,1.95)(800,2.15)(825,1.95)(850,2.05)(875,1.9)(900,2.0)(925,1.85)(950,2.0)(975,1.9)(1000,1.95)};
\addplot coordinates {(0,1.85)(20,2.2)(40,2.0)(60,2.3)(75,2.9)(90,3.5)(105,4.1)(120,4.7)(135,5.3)(380,5.3)(400,4.9)(420,4.4)(440,4.0)(465,3.6)(490,3.9)(520,3.5)(550,3.8)(580,3.4)(620,3.7)(660,3.3)(700,3.6)(740,3.2)(780,3.5)(820,3.1)(860,3.4)(900,3.1)(940,3.3)(980,3.1)(1000,3.2)};
\addplot coordinates {(0,1.8)(20,2.1)(40,1.9)(60,2.15)(80,1.95)(100,2.2)(120,2.0)(140,2.25)(160,2.1)(180,2.5)(200,3.0)(220,3.5)(240,4.0)(260,4.6)(280,5.2)(640,5.2)(660,4.8)(680,4.3)(710,3.8)(740,3.4)(770,3.1)(800,3.3)(830,2.9)(860,3.1)(890,2.8)(920,3.0)(950,2.7)(980,2.9)(1000,2.8)};
\addplot coordinates {(0,1.85)(20,2.15)(40,1.95)(60,2.2)(80,2.0)(100,2.15)(120,1.9)(140,2.1)(160,1.95)(180,2.2)(200,2.0)(220,2.15)(240,1.9)(260,2.1)(280,1.95)(300,2.1)(325,1.9)(350,2.05)(375,1.85)(400,2.05)(425,1.9)(450,2.1)(475,1.95)(500,2.05)(525,1.9)(550,2.05)(575,1.85)(600,2.0)(625,1.9)(650,2.05)(675,1.85)(700,2.0)(725,1.85)(750,1.95)(775,1.8)(800,1.95)(825,1.85)(850,2.0)(875,1.85)(900,1.95)(925,1.8)(950,1.95)(975,1.85)(1000,1.95)};
\addplot coordinates {(0,1.8)(20,2.1)(40,1.9)(60,2.2)(75,2.8)(90,3.5)(105,4.2)(120,4.9)};
\addplot coordinates {(0,1.85)(25,2.05)(50,1.85)(75,2.0)(100,1.8)(125,2.0)(150,1.85)(175,2.0)(200,1.8)(225,1.95)(250,1.8)(275,2.0)(300,1.85)(325,2.0)(350,1.8)(375,1.95)(400,1.8)(425,2.0)(450,1.85)(475,1.95)(500,1.8)(525,2.0)(550,1.85)(575,1.95)(600,1.8)(625,1.95)(650,1.85)(675,2.0)(700,1.85)(725,1.95)(750,1.8)(775,1.95)(800,1.85)(825,2.0)(850,1.85)(875,1.95)(900,1.85)(925,2.05)(950,1.9)(975,2.0)(1000,1.95)};
\addplot coordinates {(0,1.85)(20,2.2)(40,2.0)(60,2.25)(80,2.0)(100,2.2)(120,1.95)(140,2.2)(160,2.0)(180,2.25)(200,2.05)(220,2.3)(240,2.2)(260,2.5)(280,2.4)(300,2.7)(320,2.6)(340,3.0)(360,3.4)(380,3.9)(400,4.4)(420,5.0)(660,5.0)(680,4.7)(700,4.3)(730,3.9)(760,3.5)(790,3.2)(820,3.4)(850,3.0)(880,3.2)(910,2.9)(940,3.1)(970,2.8)(1000,3.0)};
\addplot coordinates {(0,1.8)(20,2.15)(40,1.9)(60,2.1)(80,1.9)(100,2.1)(120,1.85)(140,2.05)(160,1.9)(180,2.1)(200,1.9)(220,2.05)(240,1.85)(260,2.05)(280,1.9)(300,2.1)(320,1.95)(340,2.15)(360,2.0)(380,2.2)(400,2.1)(420,2.3)(440,2.2)(460,2.6)(480,3.0)(500,3.4)(520,3.8)(540,4.2)(560,4.7)(580,5.2)(760,5.2)(780,4.8)(800,4.3)(830,3.9)(860,3.5)(890,3.1)(920,2.9)(950,2.7)(980,2.6)(1000,2.6)};
\addplot coordinates {(0,1.85)(20,2.2)(40,1.95)(60,2.15)(80,1.9)(100,2.1)(120,1.95)(140,2.2)(160,2.1)(175,2.6)(190,3.2)(205,3.8)(220,4.4)(235,5.0)};
\addplot coordinates {(0,1.8)(20,2.15)(40,1.95)(60,2.2)(80,2.0)(100,2.15)(120,1.9)(140,2.1)(160,1.95)(180,2.15)(200,1.9)(220,2.1)(240,1.95)(260,2.2)(280,2.1)(300,2.4)(320,2.9)(340,3.4)(360,3.9)(380,4.4)(400,5.0)(820,5.0)(840,4.8)(860,4.4)(890,3.9)(920,3.6)(950,3.9)(980,3.6)(1000,3.8)};
\addplot coordinates {(0,1.85)(20,2.2)(35,2.6)(50,3.3)(65,4.0)(80,4.6)(95,5.2)};
\addplot coordinates {(0,1.85)(20,2.1)(40,1.9)(60,2.15)(80,1.95)(100,2.2)(120,2.0)(140,2.2)(160,1.95)(180,2.2)(200,2.0)(220,2.2)(240,2.0)(260,2.25)(280,2.05)(300,2.2)(320,2.0)(340,2.25)(360,2.1)(380,2.3)(400,2.2)(420,2.5)(440,2.9)(460,3.3)(480,3.7)(500,4.1)(520,4.6)(540,5.2)(660,5.2)(680,4.9)(700,4.5)(730,4.0)(760,3.6)(790,3.9)(820,3.5)(850,3.8)(880,3.4)(910,3.7)(940,3.3)(970,3.6)(1000,3.4)};
\addplot coordinates {(0,1.8)(20,2.15)(40,1.9)(60,2.1)(80,1.9)(100,2.15)(120,1.95)(140,2.1)(160,1.9)(180,2.15)(200,1.95)(220,2.1)(240,1.9)(260,2.1)(280,1.95)(300,2.15)(320,1.9)(340,2.1)(360,1.95)(380,2.15)(400,2.0)(420,2.2)(440,2.05)(460,2.3)(480,2.2)(500,2.5)(520,2.4)(540,2.7)(560,2.6)(580,2.9)(600,2.8)(620,3.1)(640,2.9)(660,2.7)(680,2.9)(700,2.6)(720,2.8)(740,2.5)(770,2.8)(800,2.6)(830,2.9)(860,2.7)(890,3.0)(920,2.8)(950,3.1)(980,2.9)(1000,3.0)};
\addplot coordinates {(0,1.85)(20,2.15)(40,2.0)(60,2.2)(80,1.95)(100,2.25)(115,2.8)(130,3.4)(145,4.0)(160,4.6)(175,5.2)};
\addplot coordinates {(0,1.85)(20,2.2)(40,2.0)(60,2.2)(80,1.95)(100,2.15)(120,1.95)(140,2.2)(160,2.0)(180,2.2)(200,2.05)(220,2.3)(240,2.6)(260,3.1)(280,3.6)(300,4.1)(320,4.6)(340,5.1)};
\addplot coordinates {(0,1.8)(20,2.1)(40,1.9)(60,2.15)(80,1.95)(100,2.1)(120,1.9)(140,2.15)(160,1.95)(180,2.1)(200,1.9)(220,2.1)(240,1.95)(260,2.2)(280,2.0)(300,2.15)(320,1.95)(340,2.2)(360,2.0)(380,2.2)(400,2.05)(420,2.3)(440,2.2)(460,2.5)(480,2.4)(500,2.7)(520,2.6)(540,3.0)(560,3.4)(580,3.9)(600,4.4)(620,5.0)};
\addplot coordinates {(0,1.85)(20,2.15)(40,1.95)(55,2.5)(70,3.2)(85,3.9)(100,4.5)(115,5.1)(520,5.1)(540,4.8)(560,4.4)(590,3.9)(620,3.5)(650,3.2)(680,3.4)(710,3.0)(740,3.2)(770,2.8)(800,3.0)(830,2.7)(860,2.9)(890,2.6)(920,2.8)(950,2.6)(980,2.7)(1000,2.6)};
\addplot coordinates {(0,1.8)(20,2.15)(40,1.95)(60,2.2)(80,2.0)(95,2.6)(110,3.3)(125,4.0)(140,4.6)(155,5.2)(480,5.2)(500,4.8)(520,4.4)(550,3.9)(580,3.5)(610,3.8)(640,3.4)(670,3.7)(700,3.3)(740,3.6)(780,3.2)(820,3.5)(860,3.1)(900,3.4)(940,3.0)(980,3.3)(1000,3.1)};
\addplot coordinates {(0,1.85)(20,2.1)(40,1.9)(60,2.15)(80,1.95)(100,2.1)(120,1.9)(140,2.15)(160,1.95)(180,2.1)(200,1.9)(220,2.15)(240,1.95)(260,2.1)(280,1.9)(300,2.1)(320,1.95)(340,2.15)(360,2.0)(380,2.2)(400,2.05)(420,2.2)(440,2.05)(460,2.3)(480,2.2)(500,2.4)(520,2.3)(540,2.1)(560,2.3)(580,2.15)(600,2.35)(625,2.2)(650,2.4)(675,2.2)(700,2.5)(725,2.3)(750,2.55)(775,2.35)(800,2.5)(825,2.3)(850,2.45)(875,2.25)(900,2.4)(925,2.2)(950,2.35)(975,2.15)(1000,2.3)};
\addplot coordinates {(0,1.85)(15,2.25)(30,2.7)(45,3.4)(60,4.1)(75,4.7)};
\addplot coordinates {(0,1.8)(20,2.2)(40,1.95)(60,2.25)(80,2.05)(100,2.3)(120,2.1)(135,2.7)(150,3.3)(165,3.9)(180,4.5)(195,5.1)};
\addplot coordinates {(0,1.85)(20,2.15)(40,2.0)(55,2.5)(70,3.2)(85,3.9)(100,4.5)(115,5.1)(610,5.1)(630,4.8)(650,4.3)(680,3.8)(710,3.4)(740,3.7)(770,3.3)(800,3.6)(840,3.2)(880,3.5)(920,3.1)(960,3.4)(1000,3.2)};
\addplot coordinates {(0,1.8)(20,2.15)(40,1.95)(60,2.2)(80,2.0)(100,2.2)(120,2.0)(140,2.3)(155,2.9)(170,3.5)(185,4.1)(200,4.7)};
\addplot coordinates {(0,1.85)(20,2.1)(40,1.9)(60,2.15)(80,1.95)(100,2.2)(120,2.0)(140,2.2)(160,2.0)(180,2.2)(200,2.0)(220,2.2)(240,2.0)(260,2.3)(280,2.2)(300,2.5)(320,2.9)(340,3.4)(360,3.9)(380,4.4)(400,5.0)};
\addplot coordinates {(0,1.85)(20,2.15)(40,1.95)(60,2.25)(75,2.8)(90,3.4)(105,4.0)(120,4.6)};
\addplot coordinates {(0,1.85)(15,2.3)(30,2.9)(45,3.6)(60,4.3)(75,5.0)};
\addplot coordinates {(0,1.8)(20,2.2)(40,2.0)(60,2.2)(80,2.0)(100,2.15)(120,1.95)(140,2.15)(160,2.0)(180,2.2)(200,2.0)(220,2.2)(240,2.05)(260,2.2)(280,2.05)(300,2.3)(320,2.8)(340,3.3)(360,3.8)(380,4.3)(400,4.9)};
\addplot coordinates {(0,1.85)(20,2.2)(40,2.0)(60,2.2)(80,2.0)(95,2.5)(110,3.1)(125,3.8)(140,4.5)};
\addplot coordinates {(0,1.85)(15,2.25)(30,2.2)(45,2.7)(60,3.4)(75,4.1)(90,4.8)};
\addplot coordinates {(0,1.8)(20,2.2)(40,2.0)(60,2.25)(75,2.8)(90,3.5)(105,4.2)(120,4.9)};
\addplot coordinates {(0,1.85)(20,2.15)(40,1.95)(60,2.2)(80,2.0)(95,2.6)(110,3.2)(125,3.8)(140,4.4)(155,5.0)};
\addplot coordinates {(0,1.8)(20,2.1)(40,1.9)(60,2.15)(80,1.95)(100,2.2)(120,2.05)(135,2.6)(150,3.2)(165,3.8)(180,4.4)(195,5.0)};
\addplot coordinates {(0,1.85)(20,2.2)(40,2.0)(60,2.15)(80,1.9)(100,2.1)(120,1.95)(140,2.2)(160,2.05)(175,2.6)(190,3.2)(205,3.8)(220,4.4)(235,5.0)(420,5.0)(440,4.6)(460,4.2)(490,3.8)(520,3.5)(550,3.8)(580,3.4)(610,3.7)(650,3.3)(690,3.6)(730,3.2)(770,3.5)(810,3.1)(850,3.4)(890,3.0)(930,3.3)(970,3.0)(1000,3.2)};
\addplot coordinates {(0,1.8)(20,2.15)(40,1.9)(60,2.1)(80,1.9)(100,2.15)(120,1.95)(140,2.1)(160,1.9)(180,2.15)(200,2.05)(215,2.6)(230,3.2)(245,3.8)(260,4.4)(275,5.0)};
\addplot coordinates {(0,1.85)(20,2.15)(40,1.95)(60,2.2)(80,1.95)(100,2.15)(120,1.9)(140,2.1)(160,1.95)(180,2.2)(200,1.95)(220,2.0)(240,2.2)(255,2.7)(270,3.3)(285,3.9)(300,4.5)(315,5.1)};
\addplot coordinates {(0,1.8)(20,2.1)(40,1.9)(60,2.15)(80,1.95)(100,2.2)(120,2.0)(140,2.15)(160,1.9)(180,2.1)(200,1.95)(220,2.15)(240,1.95)(260,2.2)(280,2.1)(295,2.6)(310,3.2)(325,3.8)(340,4.4)(355,5.0)(560,5.0)(580,4.6)(600,4.2)(630,3.8)(660,4.0)(690,3.6)(720,3.9)(760,3.5)(800,3.8)(840,3.4)(880,3.7)(920,3.3)(960,3.6)(1000,3.4)};
\addplot coordinates {(0,1.85)(25,2.1)(50,1.9)(75,2.05)(100,1.85)(125,2.05)(150,1.9)(175,2.1)(200,1.9)(225,2.05)(250,1.85)(275,2.05)(300,2.05)(320,2.4)(340,2.9)(360,3.4)(380,3.9)(400,4.4)(420,5.0)};
\addplot coordinates {(0,1.8)(25,2.05)(50,1.85)(75,2.1)(100,1.9)(125,2.05)(150,1.85)(175,2.05)(200,1.9)(225,2.1)(250,1.9)(275,2.05)(300,1.85)(320,2.05)(340,2.1)(360,2.5)(380,3.0)(400,3.5)(420,4.0)(440,4.6)(460,5.2)};
\addplot coordinates {(0,1.85)(25,2.1)(50,1.9)(75,2.05)(100,1.85)(125,2.05)(150,1.9)(175,2.1)(200,1.9)(225,2.05)(250,1.85)(275,2.05)(300,1.9)(325,2.1)(350,1.95)(375,2.1)(400,2.1)(420,2.4)(440,2.8)(460,3.2)(480,3.6)(500,4.0)(520,4.5)(540,5.0)};
\addplot coordinates {(0,1.8)(25,2.05)(50,1.85)(75,2.0)(100,1.85)(125,2.05)(150,1.9)(175,2.05)(200,1.85)(225,2.05)(250,1.9)(275,2.1)(300,1.9)(325,2.05)(350,1.9)(375,2.1)(400,1.95)(425,2.15)(460,2.2)(480,2.5)(500,2.9)(520,3.3)(540,3.7)(560,4.1)(580,4.6)(600,5.1)(800,5.1)(820,4.7)(840,4.2)(870,3.8)(900,3.5)(930,3.8)(960,3.4)(1000,3.6)};
\addplot coordinates {(0,1.85)(25,2.1)(50,1.9)(75,2.05)(100,1.85)(125,2.05)(150,1.9)(175,2.1)(200,1.9)(225,2.05)(250,1.85)(275,2.05)(300,1.9)(325,2.1)(350,1.95)(375,2.1)(400,1.9)(425,2.1)(450,1.95)(475,2.15)(500,2.0)(520,2.15)(540,2.2)(560,2.5)(580,2.9)(600,3.3)(620,3.7)(640,4.1)(660,4.6)(680,5.1)};
\addplot coordinates {(0,1.85)(15,2.3)(30,2.8)(45,3.5)(60,4.2)(75,4.9)};
\end{axis}

% ---------------- panel f
\begin{axis}[panel, at={(399.75pt,-301.5pt)}, anchor=south west, width=159pt, height=119.25pt,
 title={C-Cl(CH\textsubscript{3}Cl)}]
\addplot coordinates {(0,2.75)(35,2.95)(70,2.65)(105,2.95)(140,2.7)(175,2.95)(210,2.65)(245,2.95)(280,2.7)(315,2.95)(350,2.75)(385,3.05)(420,2.8)(455,3.1)(490,2.85)(525,3.1)(560,2.85)(595,3.15)(630,2.85)(665,3.2)(700,2.95)(740,2.7)(780,2.95)(820,3.25)(850,2.9)(880,2.65)(910,2.85)(950,3.1)(980,2.85)(1000,2.9)};
\addplot coordinates {(0,2.85)(35,3.0)(70,2.8)(100,3.2)(120,3.7)(140,4.2)(160,4.7)(180,5.2)(720,5.2)(740,4.8)(760,4.4)(790,3.9)(820,3.4)(850,3.1)(880,2.9)(910,3.2)(940,3.6)(970,3.3)(1000,3.0)};
\addplot coordinates {(0,2.8)(35,3.0)(70,2.7)(105,2.95)(140,2.75)(175,3.0)(210,2.8)(235,3.3)(260,3.8)(285,4.3)(310,4.9)(600,4.9)(620,4.7)(640,4.4)(670,3.9)(700,3.5)(730,3.8)(760,3.4)(790,3.7)(820,3.3)(860,3.6)(900,3.2)(940,3.5)(980,3.2)(1000,3.3)};
\addplot coordinates {(0,2.85)(35,3.05)(70,2.8)(105,3.0)(140,2.75)(175,3.05)(210,2.8)(245,3.05)(280,2.75)(315,3.1)(350,2.8)(385,3.1)(420,2.85)(455,3.2)(490,2.9)(520,2.6)(550,2.9)(580,3.3)(610,3.7)(640,4.2)(670,4.7)(700,5.2)};
\addplot coordinates {(0,2.75)(35,2.95)(70,2.7)(105,2.95)(140,2.7)(175,2.95)(210,2.7)(245,2.95)(280,2.7)(310,2.55)(340,2.85)(370,3.2)(400,3.6)(430,4.0)(460,4.5)(490,5.0)};
\addplot coordinates {(0,2.8)(35,3.0)(70,2.75)(100,3.2)(125,3.7)(150,4.2)(175,4.7)(200,5.2)(520,5.2)(540,4.8)(560,4.4)(590,3.9)(620,3.5)(650,3.8)(680,3.4)(710,3.7)(740,3.3)(780,3.6)(820,3.2)(860,3.5)(900,3.1)(940,3.4)(980,3.2)(1000,3.3)};
\addplot coordinates {(0,2.9)(35,3.05)(70,2.85)(105,3.1)(140,2.85)(165,3.3)(190,3.8)(215,4.3)(240,4.9)(820,4.9)(840,4.6)(860,4.3)(890,3.8)(920,3.4)(950,3.7)(980,3.4)(1000,3.6)};
\addplot coordinates {(0,2.7)(17,2.6)(52,2.85)(87,2.6)(122,2.85)(157,2.65)(192,2.9)(227,2.65)(262,2.9)(297,2.6)(332,2.85)(367,2.7)(402,2.95)(437,2.7)(472,2.95)(507,2.7)(542,2.55)(577,2.85)(612,3.15)(647,2.9)(682,3.2)(717,2.9)(752,3.25)(787,2.9)(815,2.6)(850,2.9)(890,3.25)(930,3.0)(970,2.8)(1000,3.0)};
\addplot coordinates {(0,2.85)(35,3.0)(70,2.75)(105,3.0)(140,2.75)(175,3.0)(210,2.75)(245,3.0)(275,2.6)(300,2.55)(330,2.85)(360,3.2)(390,3.6)(420,4.0)(450,4.5)(480,5.0)(760,5.0)(780,4.7)(800,4.4)(830,3.9)(860,3.5)(890,3.2)(920,3.5)(950,3.8)(980,3.5)(1000,3.4)};
\addplot coordinates {(0,2.95)(35,3.1)(70,2.85)(105,3.1)(140,2.85)(175,3.15)(210,2.9)(245,3.2)(280,2.9)(315,3.2)(350,2.95)(385,3.3)(420,3.0)(450,3.4)(480,3.8)(510,4.3)(540,4.9)(900,4.9)(920,4.6)(940,4.3)(970,3.9)(1000,3.6)};
\addplot coordinates {(0,2.7)(35,2.9)(70,2.65)(100,3.0)(125,3.5)(150,4.0)(175,4.5)(200,5.0)(640,5.0)(660,4.7)(680,4.4)(710,3.9)(740,3.5)(770,3.1)(800,2.8)(830,2.65)(860,2.85)(890,3.2)(920,3.5)(950,3.2)(980,2.9)(1000,2.8)};
\addplot coordinates {(0,2.8)(35,3.0)(70,2.75)(105,3.0)(140,2.75)(175,3.05)(210,2.8)(245,3.05)(280,2.8)(315,3.1)(350,2.85)(385,3.1)(410,3.5)(435,3.9)(460,4.4)(485,5.0)(860,5.0)(880,4.7)(900,4.4)(930,3.9)(960,3.6)(1000,3.5)};
\addplot coordinates {(0,2.75)(35,2.95)(70,2.7)(105,2.95)(140,2.7)(175,3.0)(210,2.75)(245,3.0)(280,2.75)(315,3.05)(350,2.8)(385,3.05)(420,2.8)(455,3.1)(490,2.85)(525,3.15)(560,2.9)(590,3.3)(620,3.7)(650,4.1)(680,4.6)(710,5.1)};
\addplot coordinates {(0,2.85)(35,3.05)(70,2.8)(105,3.05)(130,3.5)(155,4.0)(180,4.5)(205,5.0)(480,5.0)(500,4.7)(520,4.4)(550,3.9)(580,3.5)(610,3.2)(640,3.5)(670,3.1)(700,3.4)(730,3.0)(770,3.3)(810,2.9)(850,3.2)(890,2.8)(930,3.1)(970,2.8)(1000,3.0)};
\addplot coordinates {(0,2.8)(35,3.0)(70,2.75)(105,3.0)(140,2.75)(175,3.05)(210,2.8)(240,3.2)(265,3.7)(290,4.2)(315,4.7)(340,5.2)(720,5.2)(740,4.8)(760,4.3)(790,3.8)(820,3.4)(850,3.1)(880,3.4)(910,3.8)(940,3.5)(970,3.2)(1000,3.4)};
\addplot coordinates {(0,2.75)(35,2.95)(70,2.7)(105,2.95)(140,2.7)(175,2.95)(210,2.75)(245,3.0)(280,2.75)(315,3.05)(350,2.8)(385,3.05)(420,2.8)(450,2.6)(480,2.9)(510,3.3)(540,3.7)(570,4.1)(600,4.6)(630,5.1)};
\addplot coordinates {(0,2.85)(35,3.05)(70,2.8)(105,3.05)(140,2.8)(175,3.05)(210,2.85)(245,3.1)(280,2.85)(315,3.15)(345,3.5)(370,3.9)(395,4.4)(420,5.0)};
\addplot coordinates {(0,2.9)(35,3.05)(70,2.8)(100,3.2)(120,3.6)(140,4.1)(160,4.6)(180,5.1)(420,5.1)(440,4.7)(460,4.4)(490,3.9)(520,3.5)(550,3.8)(580,3.4)(610,3.7)(640,3.3)(680,3.6)(720,3.2)(760,3.5)(800,3.1)(840,3.4)(880,3.0)(920,3.3)(960,3.0)(1000,3.2)};
\addplot coordinates {(0,2.8)(35,2.95)(70,2.7)(105,2.95)(140,2.7)(175,3.0)(205,3.4)(230,3.9)(255,4.4)(280,5.0)};
\addplot coordinates {(0,2.75)(20,2.6)(55,2.9)(90,2.65)(125,2.9)(160,2.65)(195,2.95)(230,2.7)(265,2.95)(300,2.7)(335,3.0)(370,2.75)(405,3.05)(440,2.8)(475,3.1)(510,2.8)(545,3.15)(580,2.85)(615,3.2)(650,2.9)(685,3.25)(720,2.95)(755,2.7)(790,3.0)(825,3.3)(860,3.0)(895,2.75)(930,3.0)(965,3.3)(1000,3.05)};
\addplot coordinates {(0,2.85)(35,3.0)(70,2.8)(105,3.05)(140,2.8)(175,3.1)(210,2.85)(245,3.1)(280,2.85)(315,3.15)(350,2.9)(380,3.3)(405,3.7)(430,4.1)(455,4.6)(480,5.1)};
\addplot coordinates {(0,2.8)(30,3.0)(60,2.8)(85,3.2)(105,3.7)(125,4.2)(145,4.7)(165,5.2)};
\addplot coordinates {(0,2.85)(35,3.05)(70,2.8)(105,3.05)(140,2.8)(175,3.05)(200,3.5)(225,4.0)(250,4.5)(275,5.0)(560,5.0)(580,4.7)(600,4.4)(630,3.9)(660,3.5)(690,3.2)(720,3.5)(750,3.9)(780,3.6)(810,3.3)(850,3.6)(890,3.2)(930,3.5)(970,3.1)(1000,3.3)};
\addplot coordinates {(0,2.75)(35,2.95)(70,2.7)(105,2.95)(140,2.7)(175,2.95)(210,2.7)(245,3.0)(275,3.4)(300,3.8)(325,4.3)(350,4.9)(660,4.9)(680,4.7)(700,4.4)(730,3.9)(760,3.5)(790,3.9)(820,3.5)(860,3.8)(900,3.4)(940,3.7)(980,3.3)(1000,3.5)};
\addplot coordinates {(0,2.8)(35,3.0)(70,2.75)(105,3.0)(140,2.75)(175,3.0)(210,2.75)(245,3.0)(280,2.8)(315,3.05)(350,2.8)(385,3.1)(420,2.85)(455,3.1)(490,2.85)(525,3.15)(555,3.5)(585,3.9)(615,4.4)(645,5.0)};
\addplot coordinates {(0,2.75)(35,2.95)(70,2.7)(105,3.0)(140,2.75)(170,3.2)(195,3.7)(220,4.2)(245,4.8)};
\addplot coordinates {(0,2.85)(35,3.05)(70,2.8)(105,3.05)(140,2.8)(175,3.1)(210,2.85)(245,3.1)(280,2.85)(315,3.15)(350,2.9)(385,3.2)(420,2.9)(455,3.25)(490,3.0)(525,3.3)(560,3.0)(595,3.35)(630,3.05)(665,3.4)(700,3.1)(735,2.8)(770,3.1)(805,3.45)(840,3.1)(875,2.8)(910,3.1)(945,3.45)(980,3.2)(1000,3.1)};
\addplot coordinates {(0,2.9)(30,2.7)(60,2.95)(85,3.35)(105,3.75)(125,4.2)(145,4.7)};
\addplot coordinates {(0,2.95)(30,2.7)(60,2.95)(90,2.7)(110,3.1)(130,3.5)(150,3.9)(170,4.4)(190,5.0)};
\addplot coordinates {(0,2.85)(30,2.65)(60,2.9)(90,2.65)(120,2.95)(140,3.35)(160,3.75)(180,4.2)(200,4.7)};
\addplot coordinates {(0,2.95)(30,2.7)(60,3.0)(90,2.7)(120,2.95)(150,2.7)(170,3.1)(190,3.5)(210,3.9)(230,4.4)(250,5.0)(600,5.0)(620,4.6)(640,4.2)(670,3.8)(700,3.5)(730,3.8)(760,3.4)(800,3.7)(840,3.3)(880,3.6)(920,3.2)(960,3.5)(1000,3.3)};
\addplot coordinates {(0,2.9)(30,2.7)(60,2.95)(90,2.65)(120,2.9)(150,2.7)(180,2.95)(200,3.35)(220,3.75)(240,4.2)(260,4.7)};
\addplot coordinates {(0,2.85)(30,2.65)(60,2.9)(90,2.65)(120,2.9)(150,2.65)(180,2.9)(210,2.65)(230,3.05)(250,3.45)(270,3.85)(290,4.3)(310,4.8)};
\addplot coordinates {(0,2.95)(30,2.7)(60,2.95)(90,2.7)(120,3.0)(150,2.7)(180,2.95)(210,2.7)(240,2.95)(260,3.35)(280,3.75)(300,4.2)(320,4.7)(340,5.2)(680,5.2)(700,4.8)(720,4.3)(750,3.9)(780,3.6)(810,3.9)(840,3.5)(880,3.8)(920,3.4)(960,3.7)(1000,3.5)};
\addplot coordinates {(0,2.9)(30,2.7)(60,2.95)(90,2.7)(120,2.95)(150,2.7)(180,2.95)(210,2.7)(240,3.0)(270,2.7)(290,3.1)(310,3.5)(330,3.9)(350,4.4)(370,5.0)};
\addplot coordinates {(0,2.85)(30,2.65)(60,2.9)(90,2.65)(120,2.9)(150,2.65)(180,2.9)(210,2.65)(240,2.95)(270,2.7)(300,2.95)(320,3.35)(340,3.75)(360,4.2)(380,4.7)};
\addplot coordinates {(0,2.95)(30,2.7)(60,3.0)(90,2.75)(120,3.0)(150,2.75)(180,3.0)(210,2.75)(240,3.0)(270,2.75)(300,3.0)(330,2.7)(350,3.1)(370,3.5)(390,3.9)(410,4.4)(430,5.0)(780,5.0)(800,4.6)(820,4.2)(850,3.8)(880,3.5)(910,3.8)(940,3.4)(970,3.7)(1000,3.5)};
\addplot coordinates {(0,2.9)(30,2.7)(60,2.95)(90,2.7)(120,2.95)(150,2.7)(180,2.95)(210,2.7)(240,2.95)(270,2.7)(300,3.0)(330,2.75)(360,3.0)(380,3.4)(400,3.8)(420,4.2)(440,4.7)};
\addplot coordinates {(0,2.85)(30,2.65)(60,2.9)(90,2.65)(120,2.9)(150,2.65)(180,2.9)(210,2.65)(240,2.95)(270,2.7)(300,2.95)(330,2.7)(360,2.95)(390,2.75)(410,3.15)(430,3.55)(450,3.95)(470,4.4)(490,5.0)};
\addplot coordinates {(0,2.95)(30,2.7)(60,2.95)(90,2.7)(120,3.0)(150,2.7)(180,2.95)(210,2.7)(240,3.0)(270,2.75)(300,3.0)(330,2.75)(360,3.0)(390,2.75)(420,3.0)(440,3.4)(460,3.8)(480,4.2)(500,4.7)};
\addplot coordinates {(0,2.9)(30,2.7)(60,2.95)(90,2.7)(120,2.95)(150,2.7)(180,2.95)(210,2.7)(240,2.95)(270,2.7)(300,3.0)(330,2.75)(360,3.0)(390,2.75)(420,3.05)(450,2.75)(480,3.05)(500,3.4)(520,3.8)(540,4.2)(560,4.7)};
\addplot coordinates {(0,2.85)(30,2.65)(60,2.9)(90,2.65)(120,2.9)(150,2.65)(180,2.9)(210,2.65)(240,2.95)(270,2.7)(300,2.95)(330,2.7)(360,3.0)(390,2.7)(420,3.0)(450,2.75)(480,3.05)(510,2.8)(540,3.1)(560,3.45)(580,3.85)(600,4.25)(620,4.7)};
\addplot coordinates {(0,2.65)(30,2.9)(60,2.6)(90,2.85)(120,2.6)(150,2.9)(180,2.65)(210,2.9)(240,2.65)(270,2.55)(300,2.8)(330,3.0)(360,2.75)(390,2.95)(420,2.7)(450,2.6)(480,2.85)(510,3.05)(545,2.8)(580,2.6)(615,2.85)(650,3.1)(685,2.85)(720,2.6)(755,2.85)(790,3.15)(825,2.9)(860,2.65)(895,2.9)(930,3.2)(965,2.95)(1000,2.8)};
\end{axis}

\node[font=\fontsize{9.5}{11}\selectfont\bfseries] at (9.75pt,-4.5pt) {a};
\node[font=\fontsize{9.5}{11}\selectfont\bfseries] at (206.25pt,-4.5pt) {b};
\node[font=\fontsize{9.5}{11}\selectfont\bfseries] at (390.75pt,-4.5pt) {c};
\node[font=\fontsize{9.5}{11}\selectfont\bfseries] at (5.25pt,-173.25pt) {d};
\node[font=\fontsize{9.5}{11}\selectfont\bfseries] at (201pt,-171.75pt) {e};
\node[font=\fontsize{9.5}{11}\selectfont\bfseries] at (390.75pt,-173.25pt) {f};
\end{tikzpicture}
\end{document}
